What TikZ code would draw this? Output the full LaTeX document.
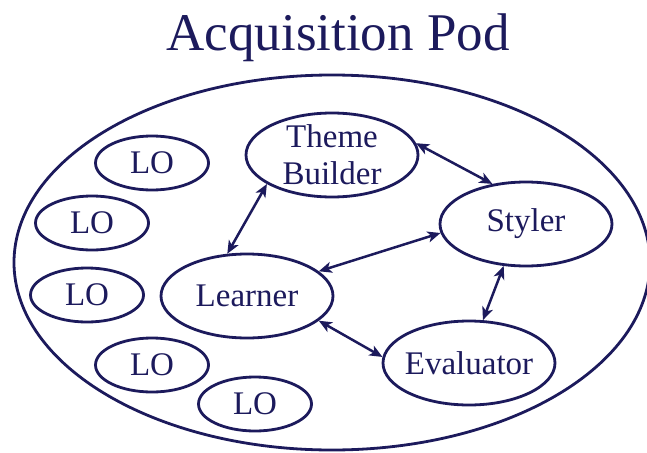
\documentclass[tikz,border=0pt]{standalone}
\usepackage{fontspec}
\setmainfont{Liberation Serif}
\usetikzlibrary{shapes.geometric,arrows.meta}
\definecolor{PodNavy}{HTML}{1C1A5C}

\begin{document}
\begin{tikzpicture}[x=1pt, y=-1pt, color=PodNavy,
    every node/.style={font=\fontsize{33}{37}\selectfont},
    agent/.style={draw, ellipse, line width=2.8pt, align=center,
      minimum width=172pt, minimum height=84pt,
      inner xsep=-6pt, inner ysep=-8pt},
    lobox/.style={draw, ellipse, line width=2.8pt,
      minimum width=113pt, minimum height=54pt, inner sep=0pt},
    link/.style={line width=2.5pt,
      {Stealth[length=13pt,width=11pt,inset=3.5pt]}-{Stealth[length=13pt,width=11pt,inset=3.5pt]}}]
  \useasboundingbox (0,0) rectangle (647,452);
  % Title
  \node (title) [anchor=base, font=\fontsize{53}{60}\selectfont] at (338,50)
    {Acquisition Pod};
  % Pod outline
  \draw[line width=2.8pt] (332,262.5) ellipse [x radius=318, y radius=187.5];
  % Learning objects
  \foreach \i/\x/\y in {1/152/163, 2/92/223, 3/87/295, 4/152/365, 5/255/404}
    \node (lo\i) [lobox] at (\x,\y) {LO};
  % Agents
  \node (tb) [agent] at (332,155) {Theme\\Builder};
  \node (ln) [agent] at (247,296) {Learner};
  \node (st) [agent] at (526,224) {Styler};
  \node (ev) [agent] at (469,363) {Evaluator};
  % Links
  \draw[link] (tb.204) -- (ln.115);
  \draw[link] (tb.8) -- (st.130);
  \draw[link] (ln.19) -- (st.186);
  \draw[link] (st.242) -- (ev.72);
  \draw[link] (ln.341) -- (ev.176);
\end{tikzpicture}
\end{document}
